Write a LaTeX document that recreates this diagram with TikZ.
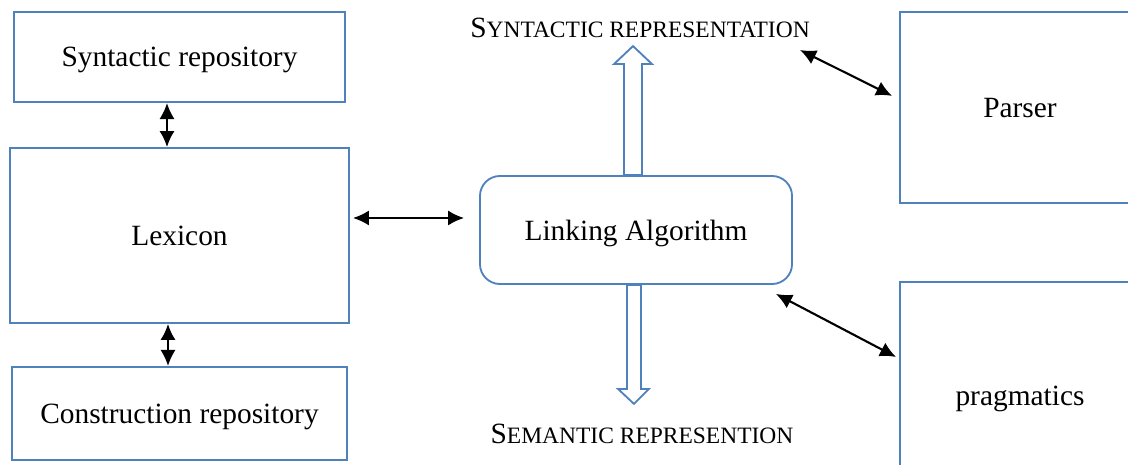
\documentclass[tikz,border=0pt]{standalone}
\usepackage{fontspec}
\setmainfont{Liberation Serif}
\usetikzlibrary{arrows.meta,positioning,calc}
\definecolor{boxblue}{RGB}{79,129,189}
\newcommand{\fakesc}[2]{{\fontsize{20.9}{24}\selectfont #1}{\fontsize{16.7}{20}\selectfont #2}}

\begin{document}
\begin{tikzpicture}[x=0.025cm, y=-0.025cm,
  box/.style={draw=boxblue, line width=1.3pt, font=\fontsize{20.9}{24}\selectfont, inner sep=0pt, text depth=0pt},
  dbl/.style={black, line width=1.5pt, {Latex[length=4mm,width=3.8mm]}-{Latex[length=4mm,width=3.8mm]}},
  hollow/.style={draw=boxblue, line width=1.3pt, fill=white, line join=miter}]
  \clip (0,0) rectangle (1128,465);
  \node[box,minimum width=8.475cm,minimum height=4.375cm] (lexicon) at (179.5,235.5) {Lexicon};
  \node[box,minimum width=8.275cm,minimum height=2.25cm,above=1.1cm of lexicon] (synrep) {Syntactic repository};
  \node[box,minimum width=8.375cm,minimum height=2.325cm,below=1.05cm of lexicon] (constr) {Construction repository};
  \node[box,rounded corners=0.5cm,minimum width=7.8cm,minimum height=2.7cm] (linking) at (636,230) {Linking Algorithm};
  \node[box,minimum width=6cm,minimum height=4.775cm] (parser) at (1020,107.5) {Parser};
  \node[box,minimum width=6cm,minimum height=5.7cm] (pragma) at (1020,396) {pragmatics};
  \node[anchor=base,inner sep=0pt] (synrepr) at (640,38) {\fakesc{S}{YNTACTIC REPRESENTATION}};
  \node[anchor=base,inner sep=0pt] (semrepr) at (642,443) {\fakesc{S}{EMANTIC REPRESENTION}};
  \coordinate (synrtip) at (800,50);
  % hollow arrows out of the linking box
  \draw[hollow] ([xshift=-0.3cm]linking.north) -- ++(0,-111) -- ++(-10,0) -- ++(19,-18)
    -- ++(19,18) -- ++(-10,0) -- ++(0,111) -- cycle;
  \draw[hollow] ([xshift=-0.225cm]linking.south) -- ++(0,104) -- ++(-9,0) -- ++(16,15)
    -- ++(15,-15) -- ++(-8,0) -- ++(0,-104) -- cycle;
  % double arrows
  \draw[dbl] ([xshift=-0.3125cm]synrep.south) -- ([xshift=-0.3125cm]synrep.south |- lexicon.north);
  \draw[dbl] ([xshift=-0.2875cm]lexicon.south) -- ([xshift=-0.2875cm]lexicon.south |- constr.north);
  \draw[dbl,shorten <=0.075cm,shorten >=0.375cm] ([yshift=0.4375cm]lexicon.east) -- ([yshift=0.4375cm]lexicon.east -| linking.west);
  \draw[dbl] (synrtip) -- ([xshift=-0.175cm,yshift=0.29cm]parser.west);
  \draw[dbl] ([xshift=-0.425cm,yshift=-0.225cm]linking.south east) -- ([xshift=-0.075cm,yshift=0.975cm]pragma.west);
\end{tikzpicture}
\end{document}
